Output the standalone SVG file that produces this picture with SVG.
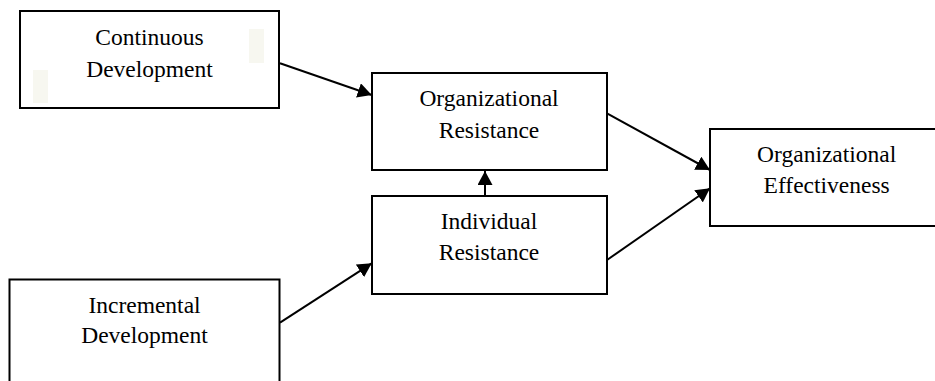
<svg xmlns="http://www.w3.org/2000/svg" width="935" height="381" viewBox="0 0 935 381">
<style>
.box{fill:#fff;stroke:#000;stroke-width:2}
.t{font-family:"Liberation Serif","Times New Roman",serif;font-size:23.5px;fill:#000;text-anchor:middle}
.c{stroke:#000;stroke-width:2;fill:none}
.faint{fill:#f7f7f0}
</style>
<defs>
<marker id="ah" markerUnits="userSpaceOnUse" markerWidth="15" markerHeight="15" refX="14" refY="7.5" orient="auto">
<path d="M0,0 L14,7.5 L0,15 z" fill="#000"/>
</marker>
</defs>
<rect width="935" height="381" fill="#fff"/>
<g id="continuous">
<rect class="box" x="20" y="11" width="259" height="97"/>
<rect class="faint" x="249" y="29" width="15" height="34"/>
<rect class="faint" x="33" y="70" width="15" height="33"/>
<text class="t" x="149.5" y="45">Continuous</text>
<text class="t" x="149.5" y="77">Development</text>
</g>
<g id="orgres">
<rect class="box" x="372" y="73" width="235" height="97"/>
<text class="t" x="489" y="105.7">Organizational</text>
<text class="t" x="489" y="137.7">Resistance</text>
</g>
<g id="indres">
<rect class="box" x="372" y="196" width="235" height="98"/>
<text class="t" x="489" y="229">Individual</text>
<text class="t" x="489" y="260">Resistance</text>
</g>
<g id="orgeff">
<rect class="box" x="710" y="129" width="233" height="97"/>
<text class="t" x="826.7" y="161.7">Organizational</text>
<text class="t" x="826.7" y="193.3">Effectiveness</text>
</g>
<g id="incremental">
<rect class="box" x="9.5" y="279.5" width="270" height="120"/>
<text class="t" x="144.5" y="312.7">Incremental</text>
<text class="t" x="144.5" y="343.3">Development</text>
</g>
<g id="connectors">
<line class="c" x1="280" y1="63.3" x2="371.7" y2="95" marker-end="url(#ah)"/>
<line class="c" x1="607" y1="113.3" x2="710" y2="170" marker-end="url(#ah)"/>
<line class="c" x1="607" y1="260" x2="710" y2="188.3" marker-end="url(#ah)"/>
<line class="c" x1="280" y1="322.7" x2="371.7" y2="263.3" marker-end="url(#ah)"/>
<line class="c" x1="485" y1="196" x2="485" y2="171" marker-end="url(#ah)"/>
</g>
</svg>
